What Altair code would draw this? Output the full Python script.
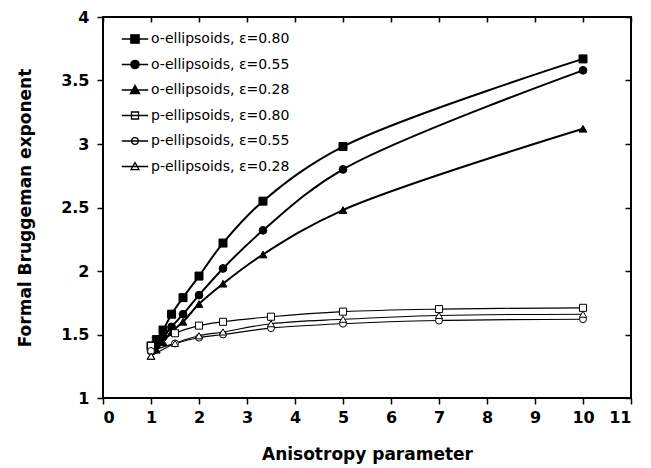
import altair as alt
import pandas as pd

SERIES = ["o-ellipsoids, ε=0.80", "o-ellipsoids, ε=0.55", "o-ellipsoids, ε=0.28",
          "p-ellipsoids, ε=0.80", "p-ellipsoids, ε=0.55", "p-ellipsoids, ε=0.28"]

X_O = [1.0, 1.111, 1.25, 1.429, 1.667, 2.0, 2.5, 3.333, 5.0, 10.0]
O_080 = [1.41, 1.46, 1.535, 1.66, 1.79, 1.96, 2.22, 2.55, 2.98, 3.67]
O_055 = [1.37, 1.42, 1.48, 1.56, 1.66, 1.81, 2.02, 2.32, 2.80, 3.58]
O_028 = [1.33, 1.38, 1.44, 1.52, 1.60, 1.74, 1.90, 2.13, 2.48, 3.12]

X_P = [1.0, 1.5, 2.0, 2.5, 3.5, 5.0, 7.0, 10.0]
P_080 = [1.41, 1.51, 1.57, 1.60, 1.64, 1.68, 1.70, 1.71]
P_055 = [1.37, 1.43, 1.475, 1.50, 1.55, 1.585, 1.61, 1.62]
P_028 = [1.33, 1.43, 1.49, 1.52, 1.585, 1.62, 1.65, 1.66]

X_TICKS = list(range(0, 12))
Y_TICKS = [1, 1.5, 2, 2.5, 3, 3.5, 4]
X_RANGE = [0, 11]
Y_RANGE = [1, 4]

rows = []
for name, xs, ys, kind in [
    (SERIES[0], X_O, O_080, "o"), (SERIES[1], X_O, O_055, "o"), (SERIES[2], X_O, O_028, "o"),
    (SERIES[3], X_P, P_080, "p"), (SERIES[4], X_P, P_055, "p"), (SERIES[5], X_P, P_028, "p"),
]:
    for xv, yv in zip(xs, ys):
        rows.append({"x": xv, "y": yv, "series": name, "kind": kind})
df = pd.DataFrame(rows)
frame_df = pd.DataFrame({"x": [X_RANGE[0]], "x2": [X_RANGE[1]], "y": [Y_RANGE[0]], "y2": [Y_RANGE[1]]})

FONT = "DejaVu Sans"
xscale = alt.Scale(domain=X_RANGE, nice=False, zero=False)
yscale = alt.Scale(domain=Y_RANGE, nice=False, zero=False)

x_enc = alt.X("x:Q", scale=xscale, axis=alt.Axis(
    values=X_TICKS, format="d", title="Anisotropy parameter",
    domain=False,
    tickSize=6, tickWidth=1.5, tickColor="black", labelPadding=5,
    labelFont=FONT, labelFontSize=16, labelFontWeight="bold", labelColor="black",
    titleFont=FONT, titleFontSize=17, titleFontWeight="bold", titleColor="black",
    titlePadding=21, grid=False))
y_enc = alt.Y("y:Q", scale=yscale, axis=alt.Axis(
    values=Y_TICKS, format="~g", title="Formal Bruggeman exponent",
    domain=False,
    tickSize=6, tickWidth=1.5, tickColor="black", labelPadding=8,
    labelFont=FONT, labelFontSize=16, labelFontWeight="bold", labelColor="black",
    titleFont=FONT, titleFontSize=17, titleFontWeight="bold", titleColor="black",
    titlePadding=26, grid=False))

base = alt.Chart(df)

frame = alt.Chart(frame_df).mark_rect(
    filled=False, stroke="black", strokeWidth=2, opacity=1).encode(
    x=x_enc, x2="x2:Q", y=y_enc, y2="y2:Q")

lines_o = base.transform_filter("datum.kind == 'o'").mark_line(
    interpolate="catmull-rom", color="black", strokeWidth=2).encode(
    x=x_enc, y=y_enc, detail="series:N")
lines_p = base.transform_filter("datum.kind == 'p'").mark_line(
    interpolate="catmull-rom", color="black", strokeWidth=1.1).encode(
    x=x_enc, y=y_enc, detail="series:N")

MARKERS = ["square", "circle", "triangle-up", "square", "circle", "triangle-up"]
FILLS = ["black", "black", "black", "white", "white", "white"]
SIZES = [64, 60, 60, 50, 48, 50]

point_layers = []
for name, shp, fil, sz in zip(SERIES, MARKERS, FILLS, SIZES):
    point_layers.append(
        base.transform_filter(alt.datum.series == name).mark_point(
            shape=shp, filled=True, fill=fil, stroke="black", strokeWidth=1,
            size=sz, opacity=1).encode(x=x_enc, y=y_enc)
    )

LEG_PATHS = [
    "M-1.2,0H1.2M-0.38,-0.38H0.38V0.38H-0.38Z",
    "M-1.2,0H1.2M-0.38,0A0.38,0.38,0,1,0,0.38,0A0.38,0.38,0,1,0,-0.38,0Z",
    "M-1.2,0H1.2M0,-0.42L0.42,0.32L-0.42,0.32Z",
    "M-1.2,0H1.2M-0.32,-0.32H0.32V0.32H-0.32Z",
    "M-1.2,0H1.2M-0.3,0A0.3,0.3,0,1,0,0.3,0A0.3,0.3,0,1,0,-0.3,0Z",
    "M-1.2,0H1.2M0,-0.36L0.36,0.28L-0.36,0.28Z",
]

leg = alt.Legend(title=None, orient="none", legendX=20, legendY=10, symbolSize=484,
                 symbolStrokeWidth=1.3, labelFont=FONT,
                 labelFontSize=14, labelColor="black", labelOffset=4, rowPadding=6.5,
                 padding=0, symbolOpacity=1)

legend_layer = base.transform_filter("datum.x < 0").mark_point(
    filled=True, size=484, strokeWidth=1.3, opacity=1).encode(
    x=x_enc, y=y_enc,
    shape=alt.Shape("series:N", scale=alt.Scale(domain=SERIES, range=LEG_PATHS), legend=leg),
    fill=alt.Fill("series:N", scale=alt.Scale(domain=SERIES, range=FILLS), legend=leg),
    stroke=alt.Stroke("series:N", scale=alt.Scale(domain=SERIES, range=["black"] * 6), legend=leg),
)

main = alt.layer(frame, lines_o, lines_p, *point_layers, legend_layer)

mirror_ticks = base.mark_point(opacity=0).encode(
    x=alt.X("x:Q", scale=xscale, axis=alt.Axis(
        orient="top", values=X_TICKS, labels=False, title=None, domain=False,
        tickSize=5, tickWidth=1.5, tickColor="black", offset=-5, grid=False)),
    y=alt.Y("y:Q", scale=yscale, axis=alt.Axis(
        orient="right", values=Y_TICKS, labels=False, title=None, domain=False,
        tickSize=6, tickWidth=1.5, tickColor="black", offset=-6, grid=False)),
)

chart = alt.layer(main, mirror_ticks).resolve_scale(
    x="independent", y="independent").properties(
    width=528, height=381,
    background="white",
    autosize=alt.AutoSizeParams(type="none"),
    padding={"left": 95, "top": 9, "right": 12, "bottom": 66},
).configure_view(strokeWidth=0)

chart.save("out.html", embed_options={"renderer": "svg", "actions": False})
